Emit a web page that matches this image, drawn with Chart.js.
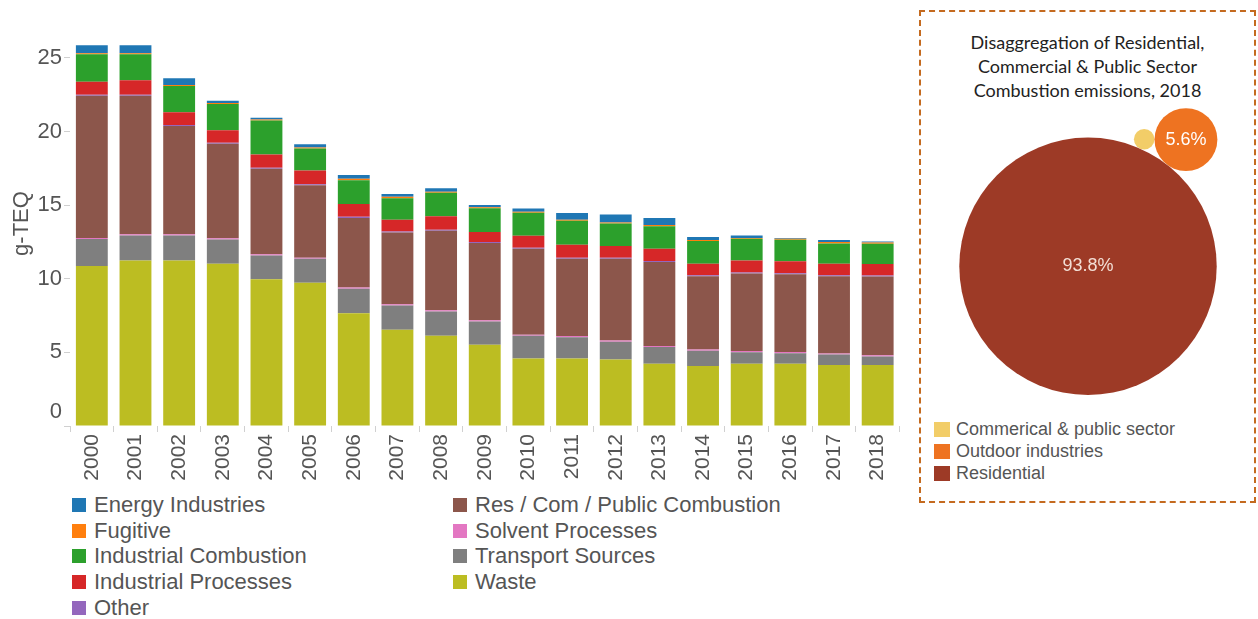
<!DOCTYPE html>
<html>
<head>
<title>Dioxin emissions by source</title>
<script src="https://cdn.jsdelivr.net/npm/chart.js@4.4.0/dist/chart.umd.min.js"></script>
<style>
    body { margin: 0; width: 1258px; height: 619px; overflow: hidden; background: #fff; font-family: "Liberation Sans", Arial, sans-serif; }
    #barChart { position: absolute; left: 0; top: 0; }
    #barLegend { position: absolute; left: 72px; top: 492px; display: grid; grid-template-rows: repeat(5, 25.7px); grid-auto-flow: column; grid-template-columns: 381px auto; font-size: 22px; color: #555; }
    .item { display: flex; align-items: center; white-space: nowrap; }
    .sw { width: 14px; height: 14px; margin-right: 8px; flex: none; }
    #box { position: absolute; left: 919px; top: 10px; width: 337px; height: 493px; box-sizing: border-box; border: 2px dashed #c46a1f; }
    #boxTitle { position: absolute; left: 0; right: 0; top: 18px; text-align: center; font-family: Lato, sans-serif; font-size: 18px; line-height: 24px; color: #222; }
    #bubbleChart { position: absolute; left: 928px; top: 105px; }
    #bubbleLegend { position: absolute; left: 934px; top: 418px; font-size: 18px; color: #555; }
    #bubbleLegend .item { height: 22px; }
    #bubbleLegend .sw { width: 16px; height: 15px; margin-right: 6px; }
</style>
</head>
<body>
<canvas id="barChart" width="905" height="490"></canvas>
<div id="barLegend"></div>

<div id="box"><div id="boxTitle">Disaggregation of Residential,<br>Commercial &amp; Public Sector<br>Combustion emissions, 2018</div></div>
<canvas id="bubbleChart" width="320" height="290"></canvas>
<div id="bubbleLegend"></div>

<script>
    // emissions by source, g-TEQ
    var years = ['2000','2001','2002','2003','2004','2005','2006','2007','2008','2009',
                 '2010','2011','2012','2013','2014','2015','2016','2017','2018'];
    var waste     = [10.87, 11.23, 11.23, 11.01, 9.96, 9.73, 7.65, 6.53, 6.13, 5.52, 4.59, 4.59, 4.52, 4.23, 4.07, 4.23, 4.23, 4.14, 4.14];
    var transport = [1.82, 1.71, 1.71, 1.66, 1.62, 1.62, 1.67, 1.66, 1.65, 1.58, 1.53, 1.44, 1.20, 1.13, 1.04, 0.78, 0.71, 0.71, 0.58];
    var solvent   = [0.08, 0.08, 0.08, 0.08, 0.08, 0.08, 0.08, 0.08, 0.08, 0.08, 0.08, 0.08, 0.08, 0.08, 0.08, 0.08, 0.08, 0.08, 0.08];
    var resCom    = [9.66, 9.41, 7.35, 6.41, 5.81, 4.91, 4.73, 4.87, 5.40, 5.25, 5.84, 5.25, 5.55, 5.69, 4.97, 5.27, 5.28, 5.23, 5.35];
    var other     = [0.07, 0.07, 0.07, 0.07, 0.07, 0.07, 0.07, 0.07, 0.07, 0.07, 0.07, 0.07, 0.07, 0.07, 0.07, 0.07, 0.07, 0.07, 0.07];
    var indProc   = [0.88, 0.97, 0.87, 0.86, 0.90, 0.94, 0.88, 0.79, 0.91, 0.68, 0.81, 0.88, 0.81, 0.83, 0.78, 0.81, 0.81, 0.78, 0.78];
    var indComb   = [1.86, 1.77, 1.77, 1.78, 2.31, 1.50, 1.61, 1.47, 1.60, 1.60, 1.56, 1.63, 1.52, 1.54, 1.55, 1.47, 1.47, 1.39, 1.37];
    var fugitive  = [0.07, 0.07, 0.07, 0.07, 0.07, 0.06, 0.10, 0.09, 0.07, 0.07, 0.07, 0.06, 0.07, 0.07, 0.07, 0.05, 0.06, 0.09, 0.09];
    var energy    = [0.54, 0.54, 0.46, 0.14, 0.11, 0.22, 0.25, 0.20, 0.23, 0.16, 0.22, 0.46, 0.54, 0.49, 0.20, 0.18, 0.05, 0.14, 0.07];
    var yTicks = [0, 5, 10, 15, 20, 25];

    // 2018 split of residential / commercial / public combustion, %
    var sectorNames  = ['Commerical & public sector', 'Outdoor industries', 'Residential'];
    var sectorShares = [0.6, 5.6, 93.8];
    var sectorColors = ['#f2cd68', '#ee7321', '#9d3a26'];

    // bottom of the stack first
    var stack = [
        { label: 'Waste', data: waste, color: '#bcbd22' },
        { label: 'Transport Sources', data: transport, color: '#7f7f7f' },
        { label: 'Solvent Processes', data: solvent, color: '#e377c2' },
        { label: 'Res / Com / Public Combustion', data: resCom, color: '#8c564b' },
        { label: 'Other', data: other, color: '#9467bd' },
        { label: 'Industrial Processes', data: indProc, color: '#d62728' },
        { label: 'Industrial Combustion', data: indComb, color: '#2ca02c' },
        { label: 'Fugitive', data: fugitive, color: '#ff7f0e' },
        { label: 'Energy Industries', data: energy, color: '#1f77b4' }
    ];

    // the zero label sits a little above the baseline
    var zeroLabel = {
        id: 'zeroLabel',
        afterDraw: function(chart) {
            var s = chart.scales.y, ctx = chart.ctx;
            ctx.save();
            ctx.font = '22px "Helvetica Neue", Helvetica, Arial, sans-serif';
            ctx.fillStyle = '#555';
            ctx.textAlign = 'right';
            ctx.textBaseline = 'middle';
            ctx.fillText('0', s.right - 8, s.getPixelForValue(0) - 14);
            ctx.restore();
        }
    };

    var barChart = new Chart(document.getElementById('barChart'), {
        type: 'bar',
        data: {
            labels: years,
            datasets: stack.map(function(s) {
                return { label: s.label, data: s.data, backgroundColor: s.color, borderWidth: 0,
                         barPercentage: 0.73, categoryPercentage: 1 };
            })
        },
        options: {
            responsive: false,
            animation: false,
            layout: { padding: { top: 21, right: 5 } },
            plugins: { legend: { display: false }, tooltip: { enabled: false } },
            scales: {
                x: {
                    stacked: true,
                    border: { display: false },
                    grid: { drawOnChartArea: false, tickLength: 6, color: '#d0d0d0', offset: true },
                    ticks: { minRotation: 90, maxRotation: 90, autoSkip: false, padding: 2, color: '#555', font: { size: 21 } },
                    afterFit: function(s) { s.height = 64; }
                },
                y: {
                    stacked: true,
                    min: 0,
                    max: 27.5,
                    border: { display: false },
                    grid: { drawOnChartArea: false, tickLength: 6, color: '#d0d0d0' },
                    ticks: { padding: 2, color: '#555', font: { size: 22 },
                             callback: function(v) { return v === 0 ? '' : v; } },
                    afterBuildTicks: function(s) { s.ticks = yTicks.map(function(v) { return { value: v }; }); },
                    afterFit: function(s) { s.width = 70; },
                    title: { display: true, text: 'g-TEQ', color: '#555', font: { size: 22 }, padding: { top: 9 } }
                }
            }
        },
        plugins: [zeroLabel]
    });

    // legend in two columns, alphabetical
    var legendOrder = stack.slice().sort(function(a, b) { return a.label < b.label ? -1 : 1; });
    var barLegend = document.getElementById('barLegend');
    legendOrder.forEach(function(s) {
        barLegend.innerHTML += '<div class="item"><span class="sw" style="background:' + s.color + '"></span>' + s.label + '</div>';
    });

    // bubble pack: biggest circle at the bottom, next one touching it, smallest touching both
    var W = 320, H = 290, R_MAX = 128.7;
    var maxShare = Math.max.apply(null, sectorShares);
    var radii = sectorShares.map(function(v) { return R_MAX * Math.sqrt(v / maxShare); });
    var A = { x: W / 2, y: H - radii[2] };
    var ang = -52.3 * Math.PI / 180;
    var ux = Math.cos(ang), uy = Math.sin(ang);
    var dAB = radii[2] + radii[1];
    var B = { x: A.x + dAB * ux, y: A.y + dAB * uy };
    var d0 = radii[2] + radii[0], d1 = radii[1] + radii[0];
    var a = (d0 * d0 - d1 * d1 + dAB * dAB) / (2 * dAB);
    var h = Math.sqrt(d0 * d0 - a * a);
    var C = { x: A.x + a * ux + h * uy, y: A.y + a * uy - h * ux };
    var centres = [C, B, A];

    var shareLabels = {
        id: 'shareLabels',
        afterDatasetsDraw: function(chart) {
            var ctx = chart.ctx;
            chart.getDatasetMeta(0).data.forEach(function(el, i) {
                if (radii[i] < 20) return;
                ctx.save();
                ctx.font = '18px "Helvetica Neue", Helvetica, Arial, sans-serif';
                ctx.fillStyle = i === 2 ? '#f3dfd6' : '#ffffff';
                ctx.textAlign = 'center';
                ctx.textBaseline = 'middle';
                ctx.fillText(sectorShares[i].toFixed(1) + '%', el.x, el.y);
                ctx.restore();
            });
        }
    };

    var bubbleChart = new Chart(document.getElementById('bubbleChart'), {
        type: 'bubble',
        data: {
            datasets: [{
                data: sectorShares.map(function(v, i) { return { x: centres[i].x, y: centres[i].y, r: radii[i] }; }),
                backgroundColor: sectorColors,
                borderWidth: 0,
                clip: false
            }]
        },
        options: {
            responsive: false,
            animation: false,
            layout: { padding: 0, autoPadding: false },
            plugins: { legend: { display: false }, tooltip: { enabled: false } },
            scales: {
                x: { type: 'linear', min: 0, max: W, display: false },
                y: { type: 'linear', min: 0, max: H, reverse: true, display: false }
            }
        },
        plugins: [shareLabels]
    });

    var bubbleLegend = document.getElementById('bubbleLegend');
    sectorNames.forEach(function(n, i) {
        bubbleLegend.innerHTML += '<div class="item"><span class="sw" style="background:' + sectorColors[i] + '"></span>' + n.replace('&', '&amp;') + '</div>';
    });
</script>
</body>
</html>
